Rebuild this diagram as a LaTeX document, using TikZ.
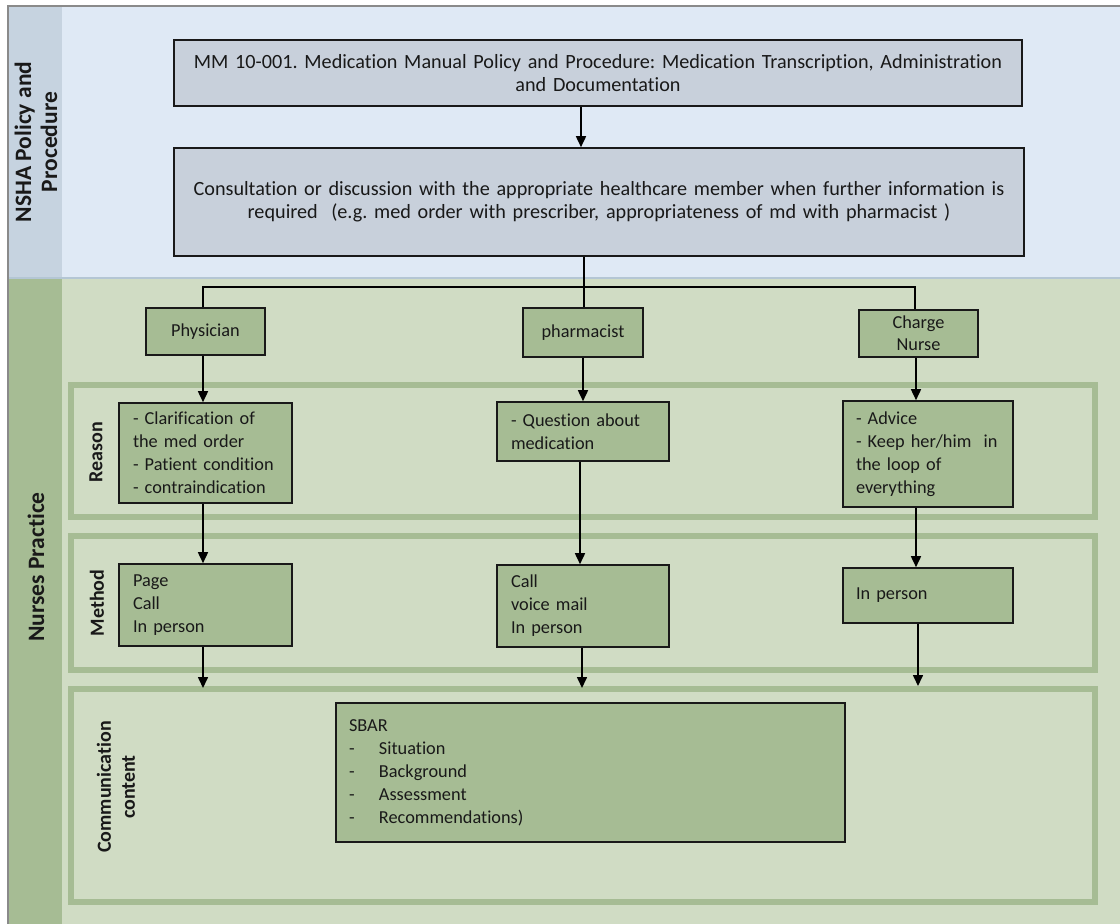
\documentclass[tikz,border=0pt]{standalone}
\usepackage{fontspec}
\setmainfont{Carlito}[Ligatures=NoCommon]
\usetikzlibrary{arrows.meta}
\frenchspacing
\definecolor{laneblue}{HTML}{DFE9F5}
\definecolor{stripblue}{HTML}{C6D3E0}
\definecolor{lanerule}{HTML}{B4C6D4}
\definecolor{policyfill}{HTML}{C8D0DB}
\definecolor{lanegreen}{HTML}{D0DCC4}
\definecolor{stripgreen}{HTML}{A6BC94}
\definecolor{boxgreen}{HTML}{A6BC94}
\definecolor{framegray}{HTML}{8A8A8A}
\begin{document}
\begin{tikzpicture}[x=1pt,y=-1pt,
  every node/.style={font=\fontsize{18.3}{23}\selectfont, text=black!90},
  policy/.style={draw=black!90, line width=1.6pt, fill=policyfill, inner sep=0pt, align=center,
    font=\fontsize{20.2}{23}\selectfont},
  gbox/.style={draw=black!90, line width=1.6pt, fill=boxgreen, inner ysep=0pt},
  arr/.style={line width=1.6pt, -{Triangle[width=10pt,length=11pt]}},
  link/.style={line width=1.6pt},
  band/.style={draw=stripgreen, line width=6pt, fill=lanegreen},
  lanelabel/.style={rotate=90, font=\fontsize{23.5}{26}\bfseries\selectfont, align=center},
  bandlabel/.style={rotate=90, font=\fontsize{20}{24}\bfseries\selectfont, align=center}]

\useasboundingbox (0,0) rectangle (1120,924);
\fill[white] (0,0) rectangle (1120,924);

% swim lanes
\fill[laneblue] (8,6) rectangle (1120,278);
\fill[stripblue] (8,6) rectangle (62,278);
\fill[lanegreen] (8,278) rectangle (1120,924);
\fill[stripgreen] (8,278) rectangle (62,924);
\draw[lanerule, line width=1.2pt] (8,278) -- (1120,278);
\draw[framegray, line width=1.2pt] (8,924) -- (8,6) -- (1120,6);

\node[lanelabel] (lanePolicy) at (36,142) {NSHA Policy and\\Procedure};
\node[lanelabel] (laneNurses) at (36,567) {Nurses Practice};

% inner bands of the practice lane
\draw[band] (71,385) rectangle (1095,517);
\draw[band] (71,536) rectangle (1095,670);
\draw[band] (71,689) rectangle (1095,902);
\node[bandlabel] (lblReason) at (96,452) {Reason};
\node[bandlabel] (lblMethod) at (97,603) {Method};
\node[bandlabel] (lblComm) at (116,787) {Communication\\content};

% policy boxes
\node[policy, minimum width=848, minimum height=66, text width=836] (policy) at (598,73)
  {MM 10-001. Medication Manual Policy and Procedure: Medication Transcription, Administration\\and Documentation};
\node[policy, minimum width=850, minimum height=108, text width=840] (consult) at (599,202)
  {Consultation or discussion with the appropriate healthcare member when further information is\\required\ \ (e.g. med order with prescriber, appropriateness of md with pharmacist )};

% contacts
\node[gbox, align=center, minimum width=119, minimum height=47] (phys) at (205.5,331.5) {Physician};
\node[gbox, align=center, minimum width=120, minimum height=49] (pharm) at (583,332.5) {pharmacist};
\node[gbox, align=center, minimum width=119, minimum height=47, font=\fontsize{18.3}{22}\selectfont] (charge) at (918.5,333.5) {Charge\\Nurse};

% reasons
\node[gbox, align=left, inner xsep=14pt, text width=145, minimum height=100] (reasonP) at (205.5,453)
  {- Clarification of\\the med order\\- Patient condition\\- contraindication};
\node[gbox, align=left, inner xsep=14pt, text width=144, minimum height=59] (reasonM) at (583,431.5)
  {- Question about\\medication};
\node[gbox, align=left, inner xsep=13pt, text width=144, minimum height=106] (reasonC) at (928,454)
  {- Advice\\- Keep her/him\ \ in\\the loop of\\everything};

% methods
\node[gbox, align=left, inner xsep=14pt, text width=145, minimum height=82] (methP) at (205.5,605)
  {Page\\Call\\In person};
\node[gbox, align=left, inner xsep=14pt, text width=144, minimum height=82] (methM) at (583,606)
  {Call\\voice mail\\In person};
\node[gbox, align=left, inner xsep=13pt, text width=144, minimum height=55] (methC) at (928,595.5)
  {In person};

% communication content
\node[gbox, align=left, inner xsep=13pt, text width=483, minimum height=139] (sbar) at (590.5,772.5)
  {SBAR\\\makebox[30pt][l]{-}Situation\\\makebox[30pt][l]{-}Background\\\makebox[30pt][l]{-}Assessment\\\makebox[30pt][l]{-}Recommendations)};

% connectors
\coordinate (split) at (584,287);
\coordinate (endP) at (203,688);
\coordinate (endM) at (582,688);
\coordinate (endC) at (918,686);

\draw[arr] (policy.south -| 581,0) -- (consult.north -| 581,0);
\draw[link] (consult.south -| split) -- (split);
\draw[link] (split) -| (phys.north -| 203,0);
\draw[link] (split) -| (charge.north -| 915,0);
\draw[link] (split) -- (pharm.north -| split);

\draw[arr] (phys.south -| 203,0) -- (reasonP.north -| 203,0);
\draw[arr] (pharm.south) -- (reasonM.north);
\draw[arr] (charge.south -| 916,0) -- (reasonC.north -| 916,0);

\draw[arr] (reasonP.south -| 203,0) -- (methP.north -| 203,0);
\draw[arr] (reasonM.south -| 580,0) -- (methM.north -| 580,0);
\draw[arr] (reasonC.south -| 916,0) -- (methC.north -| 916,0);

\draw[arr] (methP.south -| endP) -- (endP);
\draw[arr] (methM.south -| endM) -- (endM);
\draw[arr] (methC.south -| endC) -- (endC);
\end{tikzpicture}
\end{document}
